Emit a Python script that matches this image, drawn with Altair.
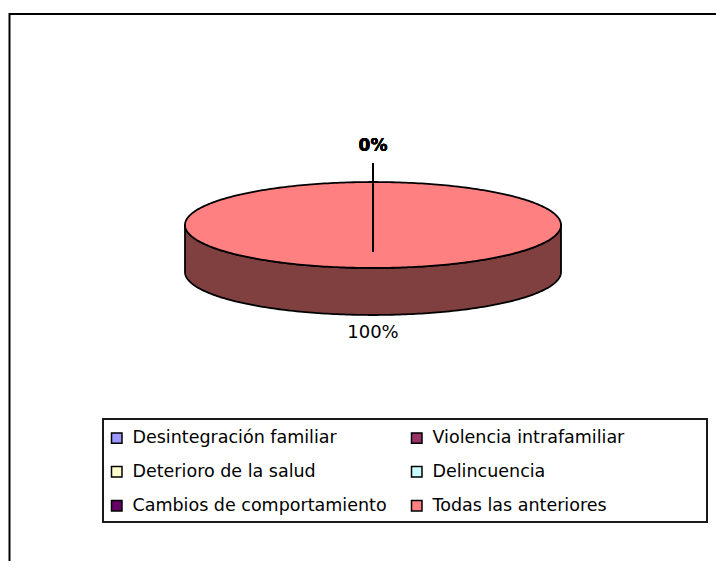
import math
import altair as alt
import pandas as pd

# ---- data ----
categories = [
    "Desintegración familiar",
    "Violencia intrafamiliar",
    "Deterioro de la salud",
    "Delincuencia",
    "Cambios de comportamiento",
    "Todas las anteriores",
]
values = [0, 0, 0, 0, 0, 100]
top_colors = ["#9999FF", "#993366", "#FFFFCC", "#CCFFFF", "#660066", "#FF8080"]
side_colors = ["#4D4D80", "#4D1A33", "#808066", "#668080", "#330033", "#804040"]

# legend is laid out two per row; Vega fills columns first, so reorder
legend_order = categories[0::2] + categories[1::2]
top_map = dict(zip(categories, top_colors))
side_map = dict(zip(categories, side_colors))

# ---- 3D pie geometry (data units, radius = 1) ----
TILT = 43 / 188.0      # vertical squash of the pie top
DEPTH = 47 / 188.0     # thickness of the pie
R_LABEL_ZERO = 1.837   # label radius for 0 % slices (outside, with leader)
R_LEADER = 1.442       # leader start radius
PIVOT_Y = -0.1436      # leader end
R_LABEL = 1.372        # label radius for other slices

W, H = 708, 553
XDOM = [(8 - 373) / 188.0, (716 - 373) / 188.0]
YDOM = [(225 - (8 + H)) / 188.0, (225 - 8) / 188.0]


def pt(a, drop=0.0):
    r = math.radians(a)
    return math.sin(r), math.cos(r) * TILT - drop


def arc(a0, a1, step=1.0):
    n = max(2, int(abs(a1 - a0) / step) + 1)
    return [a0 + (a1 - a0) * k / (n - 1) for k in range(n)]


total = float(sum(values))
top_rows, side_rows, label_rows, leader_rows = [], [], [], []
start = 0.0
for cat, v in zip(categories, values):
    span = 360.0 * v / total
    a0, a1 = start, start + span
    mid = (a0 + a1) / 2.0
    start = a1
    pct = f"{round(100 * v / total)}%"
    m = math.radians(mid)
    if v == 0:
        label_rows.append({"cat": cat, "pct": pct, "zero": True,
                           "x": R_LABEL_ZERO * math.sin(m),
                           "y": R_LABEL_ZERO * math.cos(m) * TILT})
        leader_rows.append({"cat": cat,
                            "x": R_LEADER * math.sin(m), "y": R_LEADER * math.cos(m) * TILT,
                            "x2": 0.0, "y2": PIVOT_Y})
        continue
    drop = DEPTH if math.cos(m) < 0 else 0.0
    label_rows.append({"cat": cat, "pct": pct, "zero": False,
                       "x": R_LABEL * math.sin(m),
                       "y": R_LABEL * math.cos(m) * TILT - drop})
    # top face
    i = 0
    if span < 360:
        top_rows.append({"cat": cat, "i": i, "x": 0.0, "y": 0.0}); i += 1
        angs = arc(a0, a1)
    else:
        angs = arc(a0, a1)[:-1]
    for a in angs:
        x, y = pt(a)
        top_rows.append({"cat": cat, "i": i, "x": x, "y": y}); i += 1
    # visible front side wall
    s0, s1 = max(a0, 90.0), min(a1, 270.0)
    if s1 > s0:
        j = 0
        for a in arc(s0, s1):
            x, y = pt(a)
            side_rows.append({"cat": cat, "i": j, "x": x, "y": y}); j += 1
        for a in arc(s1, s0):
            x, y = pt(a, DEPTH)
            side_rows.append({"cat": cat, "i": j, "x": x, "y": y}); j += 1

top_df = pd.DataFrame(top_rows)
side_df = pd.DataFrame(side_rows)
lab_df = pd.DataFrame(label_rows)
lead_df = pd.DataFrame(leader_rows)

X = alt.X("x:Q", scale=alt.Scale(domain=XDOM, nice=False, zero=False), axis=None)
Y = alt.Y("y:Q", scale=alt.Scale(domain=YDOM, nice=False, zero=False), axis=None)

frame = alt.Chart(pd.DataFrame({"k": [0]})).mark_rect(
    filled=False, stroke="black", strokeWidth=2
).encode(x=alt.value(1.5), x2=alt.value(900), y=alt.value(6), y2=alt.value(900))

legend_box = alt.Chart(pd.DataFrame({"k": [0]})).mark_rect(
    filled=False, stroke="#1a1a1a", strokeWidth=2
).encode(x=alt.value(95), x2=alt.value(699), y=alt.value(411), y2=alt.value(514))

side = alt.Chart(side_df).mark_line(
    filled=True, interpolate="linear-closed", stroke="black", strokeWidth=1.8, strokeJoin="round"
).encode(
    x=X, y=Y, order=alt.Order("i:Q"),
    color=alt.Color("cat:N", scale=alt.Scale(domain=legend_order,
                                             range=[side_map[c] for c in legend_order]),
                    legend=None),
)

top = alt.Chart(top_df).mark_line(
    filled=True, interpolate="linear-closed", stroke="black", strokeWidth=1.8, strokeJoin="round"
).encode(
    x=X, y=Y, order=alt.Order("i:Q"),
    color=alt.Color(
        "cat:N",
        scale=alt.Scale(domain=legend_order, range=[top_map[c] for c in legend_order]),
        legend=alt.Legend(
            title=None, orient="none", legendX=100, legendY=421, columns=2,
            symbolType="square", symbolSize=110, symbolStrokeColor="black",
            symbolStrokeWidth=1.5, labelFont="DejaVu Sans", labelFontSize=17.5,
            labelColor="black", labelOffset=7, rowPadding=15, columnPadding=21,
            padding=0, labelLimit=0,
        ),
    ),
)

leaders = alt.Chart(lead_df).mark_rule(color="black", strokeWidth=2).encode(
    x=X, y=Y, x2="x2:Q", y2="y2:Q"
)

zero_labels = alt.Chart(lab_df[lab_df["zero"]]).mark_text(
    font="DejaVu Sans", fontSize=17, fontWeight="bold", color="black",
    align="center", baseline="middle"
).encode(x=X, y=Y, text="pct:N")

other_labels = alt.Chart(lab_df[~lab_df["zero"]]).mark_text(
    font="DejaVu Sans", fontSize=18, color="black", align="center", baseline="middle", dy=2
).encode(x=X, y=Y, text="pct:N")

chart = alt.layer(
    frame, legend_box, side, top, leaders, zero_labels, other_labels
).resolve_scale(color="independent").properties(
    width=W, height=H, padding=0, autosize=alt.AutoSizeParams(type="none"),
    background="white",
).configure_view(strokeWidth=0)

chart.save("out.html", embed_options={"renderer": "svg", "actions": False})
